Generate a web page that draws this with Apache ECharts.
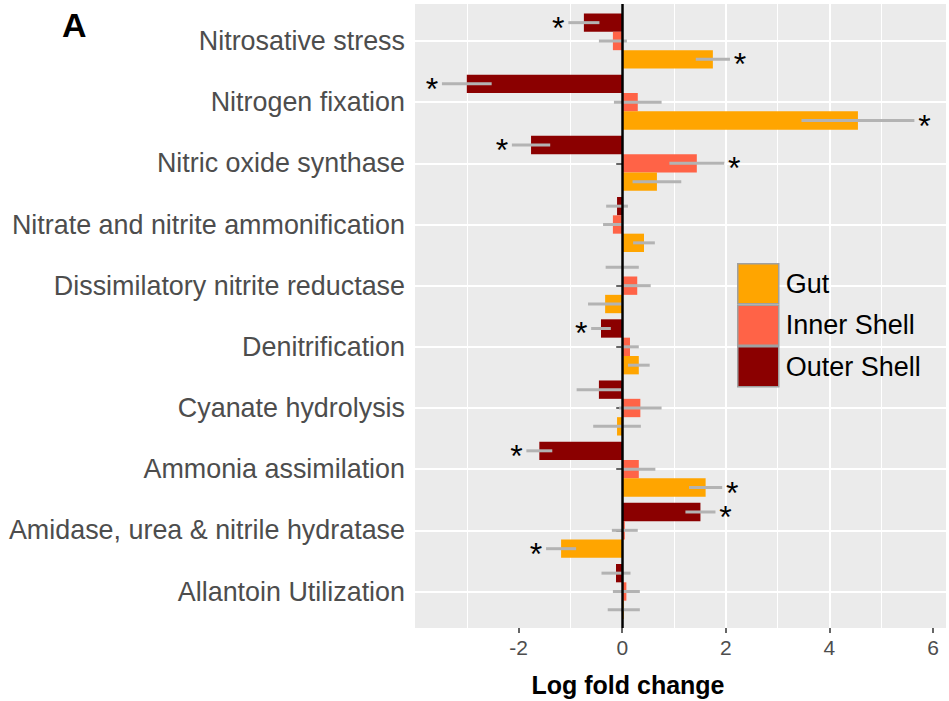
<!DOCTYPE html>
<html>
<head>
<meta charset="utf-8">
<script src="https://cdn.jsdelivr.net/npm/echarts@6/dist/echarts.min.js"></script>
<style>
  html, body { margin: 0; padding: 0; background: #fff; }
  #chart { width: 949px; height: 701px; }
</style>
</head>
<body>
<div id="chart"></div>
<script>
// ---- data ----
const categories = [
  'Nitrosative stress',
  'Nitrogen fixation',
  'Nitric oxide synthase',
  'Nitrate and nitrite ammonification',
  'Dissimilatory nitrite reductase',
  'Denitrification',
  'Cyanate hydrolysis',
  'Ammonia assimilation',
  'Amidase, urea & nitrile hydratase',
  'Allantoin Utilization'
];
const seriesNames = ['Outer Shell', 'Inner Shell', 'Gut'];
const outerShell    = [-0.74, -3.00, -1.76, -0.10, 0.00, -0.41, -0.45, -1.60, 1.51, -0.12];
const outerShellErr = [0.30, 0.48, 0.37, 0.21, 0.32, 0.19, 0.43, 0.25, 0.29, 0.28];
const outerShellSig = [1, 1, 1, 0, 0, 1, 0, 1, 1, 0];
const innerShell    = [-0.18, 0.30, 1.44, -0.18, 0.29, 0.15, 0.35, 0.32, 0.05, 0.08];
const innerShellErr = [0.27, 0.46, 0.53, 0.19, 0.26, 0.17, 0.41, 0.32, 0.25, 0.26];
const innerShellSig = [0, 0, 1, 0, 0, 0, 0, 0, 0, 0];
const gut    = [1.75, 4.55, 0.67, 0.42, -0.33, 0.32, -0.10, 1.61, -1.18, 0.03];
const gutErr = [0.33, 1.09, 0.47, 0.21, 0.33, 0.21, 0.46, 0.32, 0.29, 0.31];
const gutSig = [1, 1, 0, 0, 0, 0, 0, 1, 1, 0];
const xTickValues = [-2, 0, 2, 4, 6];
const legendOrder = ['Gut', 'Inner Shell', 'Outer Shell'];

// ---- styles ----
const colors = { 'Outer Shell': '#8B0000', 'Inner Shell': '#FF6347', 'Gut': '#FFA500' };
const FONT = 'Liberation Sans, Arial, Helvetica, sans-serif';

const values = [outerShell, innerShell, gut];
const errs = [outerShellErr, innerShellErr, gutErr];
const sigs = [outerShellSig, innerShellSig, gutSig];

const errData = [];
for (let s = 0; s < 3; s++) {
  for (let i = 0; i < categories.length; i++) {
    errData.push([i, s, values[s][i], errs[s][i], sigs[s][i]]);
  }
}

const chart = echarts.init(document.getElementById('chart'), null, { renderer: 'svg' });

const option = {
  animation: false,
  backgroundColor: '#ffffff',
  textStyle: { fontFamily: FONT },
  grid: [
    { left: 415, right: 3, top: 4, bottom: 73, show: true, backgroundColor: '#EBEBEB', borderWidth: 0, containLabel: false },
    { left: 415, right: 3, top: 41, bottom: 109.5, show: false, containLabel: false }
  ],
  xAxis: [
    {
      gridIndex: 0, type: 'value', min: -4, max: 6.25, interval: 2,
      axisLine: { show: false },
      axisTick: { show: true, customValues: xTickValues, length: 5, lineStyle: { color: '#333333', width: 1.5 } },
      axisLabel: { show: true, customValues: xTickValues, fontSize: 21, color: '#4D4D4D', margin: 9, fontFamily: FONT },
      splitLine: { show: true, showMinLine: false, showMaxLine: false, lineStyle: { color: '#FFFFFF', width: 2 } },
      minorTick: { show: false, splitNumber: 2 },
      minorSplitLine: { show: true, lineStyle: { color: '#FFFFFF', width: 1 } }
    },
    { gridIndex: 1, type: 'value', min: -4, max: 6.25, show: false }
  ],
  yAxis: [
    { gridIndex: 0, type: 'value', min: 0, max: 1, show: false },
    {
      gridIndex: 1, type: 'category', data: categories, inverse: true, boundaryGap: false,
      axisLine: { show: false },
      axisTick: { show: true, length: 6, lineStyle: { color: '#333333', width: 1.5 } },
      axisLabel: { fontSize: 26.9, color: '#4D4D4D', margin: 10, fontFamily: FONT },
      splitLine: { show: true, lineStyle: { color: '#FFFFFF', width: 2 } }
    }
  ],
  legend: {
    data: legendOrder,
    orient: 'vertical',
    left: 737, top: 263, padding: 0,
    itemWidth: 41, itemHeight: 40, itemGap: 0,
    icon: 'rect',
    itemStyle: { borderColor: '#A0A0A0', borderWidth: 1.5 },
    textStyle: { fontSize: 27, color: '#000000', fontFamily: FONT, padding: [0, 0, 0, 2] },
    selectedMode: false
  },
  graphic: [
    { type: 'text', left: 62, top: 8, style: { text: 'A', font: 'bold 34px ' + FONT, fill: '#000' } },
    { type: 'text', x: 628, y: 685, style: { text: 'Log fold change', font: 'bold 25px ' + FONT, fill: '#000', align: 'center', verticalAlign: 'middle' } }
  ],
  series: [
    ...seriesNames.map((name, s) => ({
      name: name, type: 'bar', xAxisIndex: 1, yAxisIndex: 1,
      data: values[s], barWidth: '30%', barGap: '0%', clip: false, z: 2,
      itemStyle: { color: colors[name] }
    })),
    {
      name: 'errors', type: 'custom', xAxisIndex: 1, yAxisIndex: 1, z: 3, clip: false,
      encode: { x: 2, y: 0 },
      data: errData,
      renderItem: function (params, api) {
        const cat = api.value(0), s = api.value(1), v = api.value(2), e = api.value(3), sig = api.value(4);
        const band = api.size([0, 1])[1];
        const off = (s - 1) * 0.3 * band;
        const p1 = api.coord([v - e, cat]);
        const p2 = api.coord([v + e, cat]);
        const y = p1[1] + off;
        const children = [{
          type: 'line',
          shape: { x1: p1[0], y1: y, x2: p2[0], y2: y },
          style: { stroke: '#B3B3B3', lineWidth: 3 }
        }];
        if (sig) {
          const tx = v < 0 ? p1[0] - 10 : p2[0] + 10;
          children.push({
            type: 'text',
            style: { text: '*', x: tx, y: y + 5, font: '32px ' + FONT, fill: '#000', align: 'center', verticalAlign: 'middle' }
          });
        }
        return { type: 'group', children: children };
      }
    },
    {
      name: 'zero', type: 'line', xAxisIndex: 0, yAxisIndex: 0, data: [], z: 10,
      markLine: {
        silent: true, symbol: 'none', animation: false,
        label: { show: false },
        lineStyle: { color: '#000000', width: 2.5, type: 'solid' },
        data: [{ xAxis: 0 }]
      }
    }
  ]
};
chart.setOption(option);
</script>
</body>
</html>
